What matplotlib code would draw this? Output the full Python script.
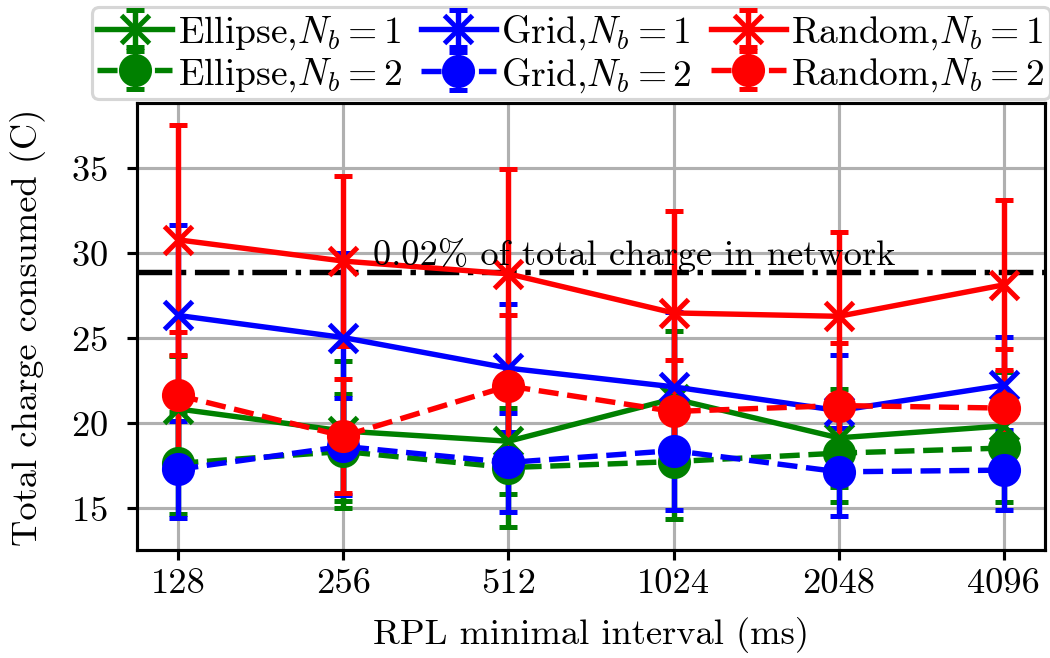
import numpy as np
import matplotlib
matplotlib.use('Agg')
import matplotlib.pyplot as plt

plt.rcParams['font.family'] = 'serif'
plt.rcParams['font.serif'] = ['cmr10']
plt.rcParams['mathtext.fontset'] = 'cm'
plt.rcParams['axes.formatter.use_mathtext'] = True
plt.rcParams['font.size'] = 17.5

# RPL minimal interval (ms)
intervals = [128, 256, 512, 1024, 2048, 4096]

# mean charge and error per series (C)
ellipse_1 = [20.8, 19.5, 18.9, 21.4, 19.1, 19.8]
ellipse_1_err = [3.1, 4.1, 3.1, 4.0, 2.9, 3.2]
ellipse_2 = [17.6, 18.3, 17.35, 17.7, 18.2, 18.5]
ellipse_2_err = [3.0, 3.35, 3.5, 3.4, 2.9, 3.15]

grid_1 = [26.3, 25.0, 23.2, 22.1, 20.7, 22.2]
grid_1_err = [5.3, 5.0, 3.75, 4.4, 3.3, 2.85]
grid_2 = [17.25, 18.6, 17.65, 18.35, 17.1, 17.2]
grid_2_err = [2.85, 2.85, 2.9, 3.5, 2.6, 2.35]

random_1 = [30.75, 29.5, 28.75, 26.45, 26.25, 28.1]
random_1_err = [6.75, 5.0, 6.15, 6.0, 4.95, 5.0]
random_2 = [21.6, 19.2, 22.15, 20.65, 21.0, 20.85]
random_2_err = [3.7, 3.35, 4.2, 3.05, 3.7, 3.45]

network_limit = 28.85
limit_text = '0.02% of total charge in network'

fig = plt.figure(figsize=(7, 4.393), dpi=150)
ax = fig.add_axes([0.1305, 0.1639, 0.8647, 0.6783])

series = [
    (ellipse_1, ellipse_1_err, 'green', 'x', '-', r'Ellipse,$N_b = 1$'),
    (ellipse_2, ellipse_2_err, 'green', 'o', '--', r'Ellipse,$N_b = 2$'),
    (grid_1, grid_1_err, 'blue', 'x', '-', r'Grid,$N_b = 1$'),
    (grid_2, grid_2_err, 'blue', 'o', '--', r'Grid,$N_b = 2$'),
    (random_1, random_1_err, 'red', 'x', '-', r'Random,$N_b = 1$'),
    (random_2, random_2_err, 'red', 'o', '--', r'Random,$N_b = 2$'),
]

ax.axhline(network_limit, color='black', linestyle='-.', linewidth=2.6, zorder=1.5)
ax.text(290, network_limit + 0.05, limit_text, fontsize=17.5, va='bottom', ha='left', zorder=10)

handles = []
for vals, err, col, mk, ls, lab in series:
    h = ax.errorbar(intervals, vals, yerr=err, color=col, marker=mk, linestyle=ls,
                    linewidth=2.6, markersize=13.5, markeredgewidth=2.4,
                    capsize=4.5, capthick=2.2, elinewidth=2.6, label=lab)
    handles.append(h)

ax.set_xscale('log', base=2)
ax.set_xticks(intervals)
ax.set_xticklabels([str(v) for v in intervals])
ax.minorticks_off()
ax.set_yticks([15, 20, 25, 30, 35])
ax.set_ylim(12.5, 38.8)
ax.grid(True, color='#b0b0b0', linewidth=1.5)
ax.set_axisbelow(True)
for sp in ax.spines.values():
    sp.set_linewidth(1.5)
ax.tick_params(width=1.5, length=5, labelsize=17.5)
ax.tick_params(axis='y', pad=9)

ax.set_xlabel('RPL minimal interval (ms)', fontsize=17.5, labelpad=8)
ax.set_ylabel('Total charge consumed (C)', fontsize=17.5, labelpad=12)

leg = ax.legend(handles=handles, ncol=3, loc='lower center', bbox_to_anchor=(0.478, 1.0),
                fontsize=18, handlelength=2.0, handletextpad=0.15, columnspacing=0.5,
                borderpad=0.15, labelspacing=0.1, borderaxespad=0.1, framealpha=0.8)
leg.get_frame().set_linewidth(1.5)

fig.savefig('out.png', dpi=150)
